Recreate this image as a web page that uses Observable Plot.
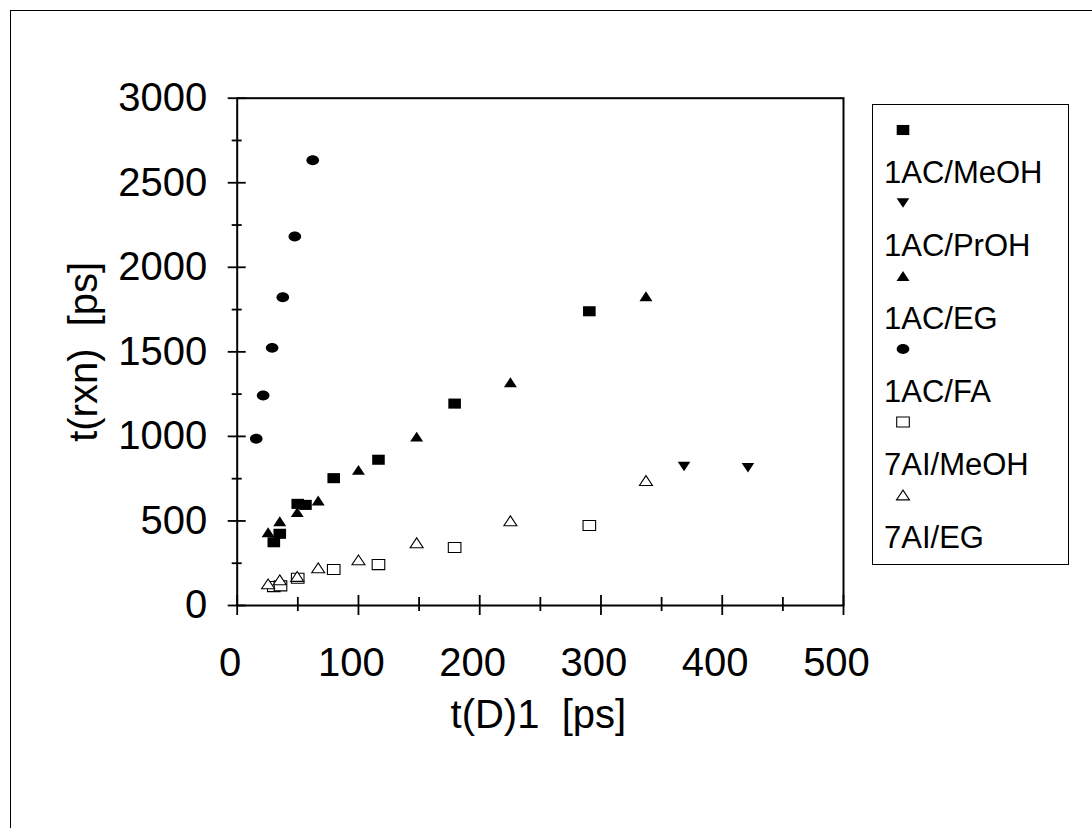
<!DOCTYPE html>
<html>
<head>
<meta charset="utf-8">
<script src="https://cdn.jsdelivr.net/npm/d3@7"></script>
<script src="https://cdn.jsdelivr.net/npm/@observablehq/plot@0.6"></script>
<style>
  html, body { margin: 0; padding: 0; background: #fff; }
  #page { position: relative; width: 1092px; height: 828px; overflow: hidden; font-family: "Liberation Sans", Arial, sans-serif; color: #000; }
  #outer { position: absolute; left: 10px; top: 10px; width: 1200px; height: 1000px; border-top: 1.5px solid #000; border-left: 1.5px solid #000; }
  #chart { position: absolute; left: 0; top: 0; }
  #legend { position: absolute; left: 872px; top: 104px; width: 197px; height: 461px; box-sizing: border-box; border: 1.5px solid #000; background: #fff; }
  .lg-text { position: absolute; left: 884px; font-size: 31px; line-height: 31px; white-space: nowrap; }
  .lg-mark { position: absolute; }
</style>
</head>
<body>
<div id="page">
  <div id="outer"></div>
  <div id="chart"></div>
  <div id="legend"></div>
</div>
<script>
// ---- data ----
const seriesNames = ["1AC/MeOH", "1AC/PrOH", "1AC/EG", "1AC/FA", "7AI/MeOH", "7AI/EG"];

const ac_meoh_x = [30.2, 35.1, 49.9, 56.3, 79.6, 116.5, 179.3, 290.4];
const ac_meoh_y = [374, 424, 601, 595, 753, 862, 1194, 1740];

const ac_proh_x = [368.5, 421.2];
const ac_proh_y = [822, 815];

const ac_eg_x = [25.5, 35.1, 49.5, 66.8, 100.0, 148.0, 225.3, 337.1];
const ac_eg_y = [433, 498, 552, 621, 802, 999, 1320, 1829];

const ac_fa_x = [15.7, 21.4, 28.8, 37.6, 47.5, 62.3];
const ac_fa_y = [986, 1242, 1524, 1823, 2182, 2633];

const ai_meoh_x = [30.2, 35.7, 49.9, 79.6, 116.5, 179.3, 290.4];
const ai_meoh_y = [112, 116, 161, 213, 242, 343, 473];

const ai_eg_x = [25.5, 35.1, 49.5, 66.8, 100.0, 148.0, 225.3, 337.1];
const ai_eg_y = [128, 152, 172, 223, 270, 371, 501, 739];

const xMajor = [0, 100, 200, 300, 400, 500];
const xMinor = [50, 150, 250, 350, 450];
const yMajor = [0, 500, 1000, 1500, 2000, 2500, 3000];
const yMinor = [250, 750, 1250, 1750, 2250, 2750];

const xLabel = "t(D)1  [ps]";
const yLabel = "t(rxn)  [ps]";

// ---- marker shapes (slightly wider than tall, as in the reference) ----
const K = 0.5523;
const sqSym = {draw(ctx, size) { const s = Math.sqrt(size / Math.PI); const w = s, h = s * 0.8;
  ctx.moveTo(-w, -h); ctx.lineTo(w, -h); ctx.lineTo(w, h); ctx.lineTo(-w, h); ctx.closePath(); }};
const triUpSym = {draw(ctx, size) { const s = Math.sqrt(size / Math.PI); const w = s * 1.03, h = s * 0.78;
  ctx.moveTo(0, -h); ctx.lineTo(w, h); ctx.lineTo(-w, h); ctx.closePath(); }};
const triDownSym = {draw(ctx, size) { const s = Math.sqrt(size / Math.PI); const w = s * 1.0, h = s * 0.76;
  ctx.moveTo(-w, -h); ctx.lineTo(w, -h); ctx.lineTo(0, h); ctx.closePath(); }};
const ellSym = {draw(ctx, size) { const s = Math.sqrt(size / Math.PI); const rx = s, ry = s * 0.78;
  ctx.moveTo(rx, 0);
  ctx.bezierCurveTo(rx, ry * K, rx * K, ry, 0, ry);
  ctx.bezierCurveTo(-rx * K, ry, -rx, ry * K, -rx, 0);
  ctx.bezierCurveTo(-rx, -ry * K, -rx * K, -ry, 0, -ry);
  ctx.bezierCurveTo(rx * K, -ry, rx, -ry * K, rx, 0);
  ctx.closePath(); }};

const symbols = [sqSym, triDownSym, triUpSym, ellSym, sqSym, triUpSym];
const openSeries = new Set(["7AI/MeOH", "7AI/EG"]);

const xs = [ac_meoh_x, ac_proh_x, ac_eg_x, ac_fa_x, ai_meoh_x, ai_eg_x];
const ys = [ac_meoh_y, ac_proh_y, ac_eg_y, ac_fa_y, ai_meoh_y, ai_eg_y];
const rows = [];
seriesNames.forEach((name, i) => xs[i].forEach((x, j) => rows.push({series: name, x, y: ys[i][j]})));

const R = 6.3;
const FS = 40;
const SW = 1.8;

const chart = Plot.plot({
  width: 1092,
  height: 828,
  marginLeft: 236.7,
  marginRight: 249,
  marginTop: 97.7,
  marginBottom: 223,
  style: {fontFamily: '"Liberation Sans", Arial, sans-serif', background: "transparent", color: "#000", overflow: "visible"},
  x: {domain: [0, 500], label: null},
  y: {domain: [0, 3000], label: null},
  symbol: {domain: seriesNames, range: symbols},
  marks: [
    Plot.frame({stroke: "#000", strokeWidth: 2}),
    // x ticks (crossing the axis)
    Plot.axisX({ticks: xMajor, tickSize: 10, fill: "none", label: null, strokeWidth: SW}),
    Plot.axisX({ticks: xMajor, tickSize: -10, fill: "none", label: null, strokeWidth: SW}),
    Plot.axisX({ticks: xMinor, tickSize: 6, fill: "none", label: null, strokeWidth: SW}),
    Plot.axisX({ticks: xMinor, tickSize: -8, fill: "none", label: null, strokeWidth: SW}),
    Plot.axisX({ticks: xMajor, tickSize: 0, tickPadding: 42, fontSize: FS, dx: -7, label: null, tickFormat: d => String(d)}),
    // y ticks
    Plot.axisY({ticks: yMajor, tickSize: 9, fill: "none", label: null, strokeWidth: SW}),
    Plot.axisY({ticks: yMajor, tickSize: -9, fill: "none", label: null, strokeWidth: SW}),
    Plot.axisY({ticks: yMinor, tickSize: 5, fill: "none", label: null, strokeWidth: SW}),
    Plot.axisY({ticks: yMinor, tickSize: -5, fill: "none", label: null, strokeWidth: SW}),
    Plot.axisY({ticks: yMajor, tickSize: 0, tickPadding: 30, fontSize: FS, label: null, tickFormat: d => String(d)}),
    // axis titles
    Plot.text([xLabel], {text: d => d, frameAnchor: "bottom", textAnchor: "middle", lineAnchor: "bottom", dy: 122, dx: -2, fontSize: FS, fill: "#000"}),
    Plot.text([yLabel], {text: d => d, frameAnchor: "left", textAnchor: "middle", lineAnchor: "top", rotate: -90, dx: -168.5, fontSize: FS, fill: "#000"}),
    // data
    Plot.dot(rows.filter(d => !openSeries.has(d.series)), {x: "x", y: "y", symbol: "series", r: R, fill: "#000", stroke: "none"}),
    Plot.dot(rows.filter(d => openSeries.has(d.series)), {x: "x", y: "y", symbol: "series", r: R, fill: "#fff", stroke: "#000", strokeWidth: 1.1})
  ]
});
document.getElementById("chart").appendChild(chart);

// ---- legend ----
const page = document.getElementById("page");
const markX = 903, markY0 = 130, step = 73, textOff = 42;
seriesNames.forEach((name, i) => {
  const cy = markY0 + i * step;
  const svg = d3.create("svg").attr("class", "lg-mark").attr("width", 20).attr("height", 16)
    .style("left", (markX - 10) + "px").style("top", (cy - 8) + "px");
  const open = openSeries.has(name);
  svg.append("path")
    .attr("transform", "translate(10,8)")
    .attr("d", d3.symbol(symbols[i], R * R * Math.PI)())
    .attr("fill", open ? "#fff" : "#000")
    .attr("stroke", open ? "#000" : "none")
    .attr("stroke-width", 1.1);
  page.appendChild(svg.node());
  const t = document.createElement("div");
  t.className = "lg-text";
  t.style.top = (cy + textOff - 15.5) + "px";
  t.textContent = name;
  page.appendChild(t);
});
</script>
</body>
</html>
